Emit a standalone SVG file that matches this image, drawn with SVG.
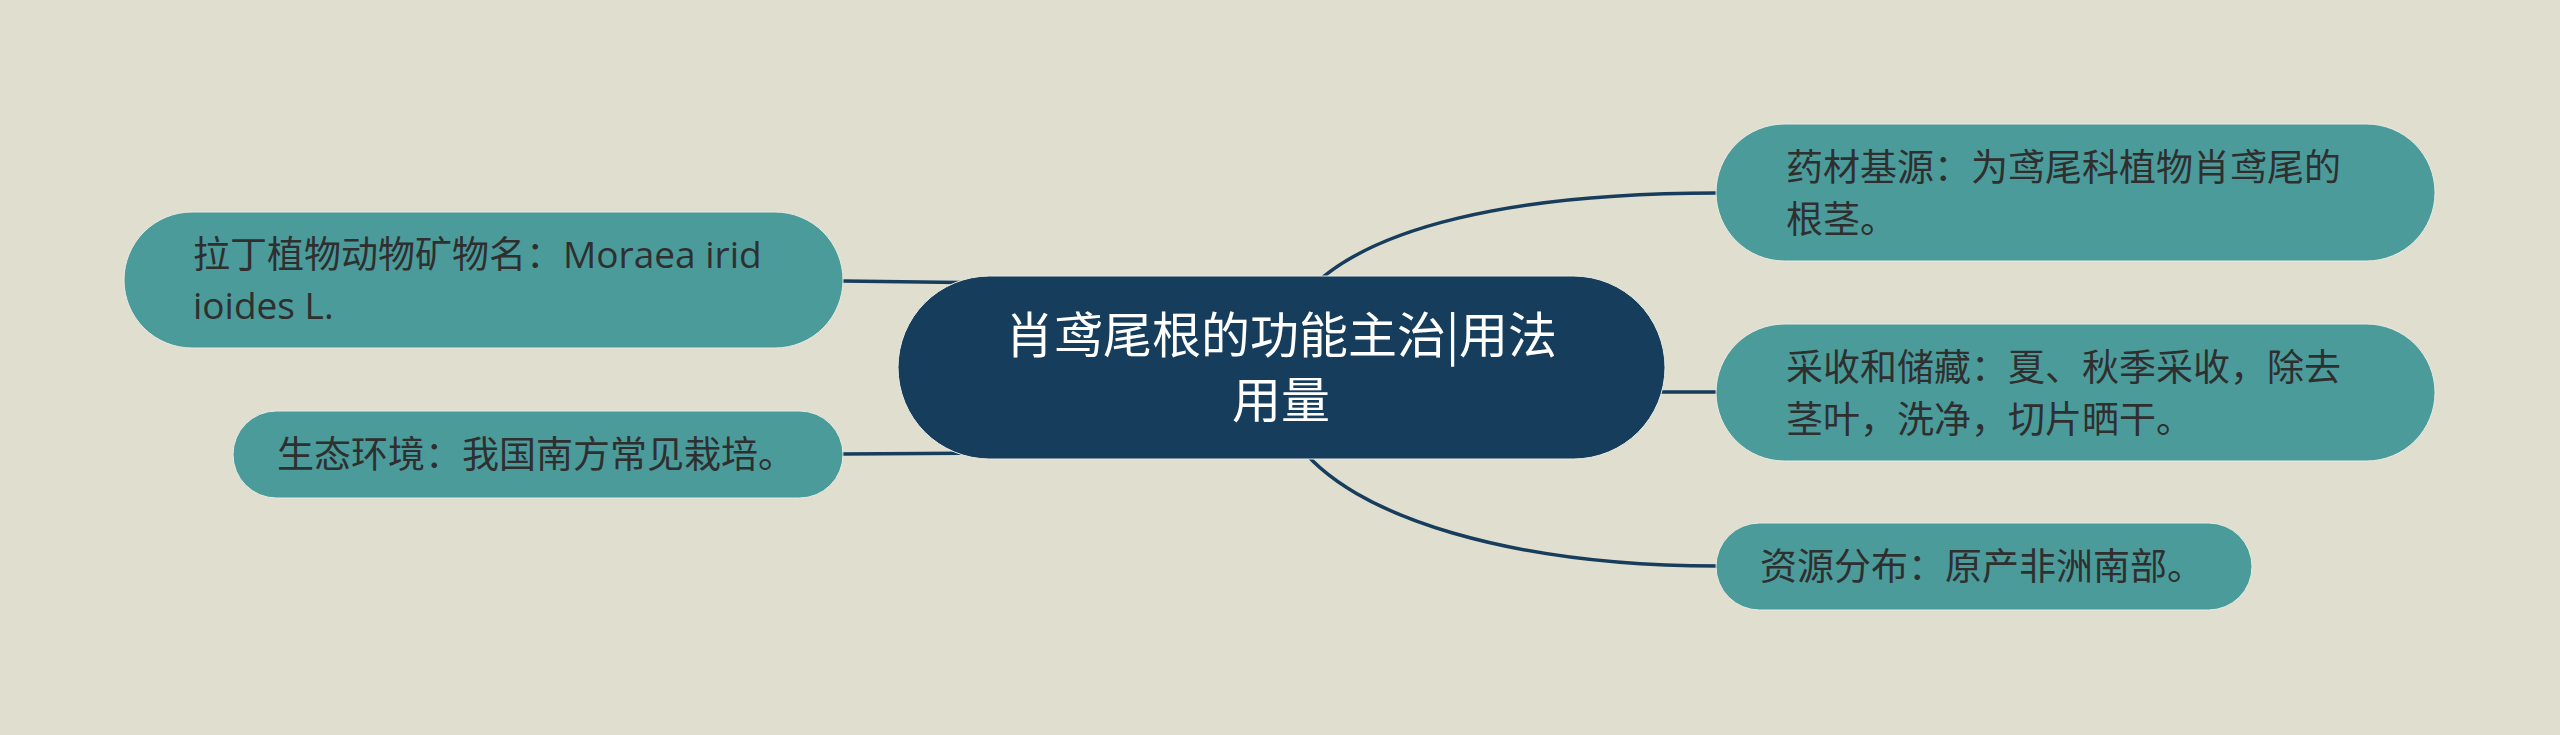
<svg xmlns="http://www.w3.org/2000/svg" width="2560" height="735" viewBox="0 0 2560 735">
<style>
.bg{fill:#e0decf}
.conn{fill:none;stroke:#173d5c;stroke-width:3.5;stroke-linecap:round}
.sub{fill:#4b9b9b;stroke:#e9ebe1;stroke-width:1}
.root{fill:#173d5c;stroke:#e9ebe1;stroke-width:1}
.t{font-family:"Open Sans","Noto Sans CJK SC",sans-serif;font-size:37px;fill:#2f2f2f}
.rt{font-family:"Noto Sans CJK SC",sans-serif;font-size:49px;fill:#ffffff;text-anchor:middle}
</style>
<rect class="bg" x="0" y="0" width="2560" height="735"/>
<g id="connectors">
<path class="conn" d="M1300,300 C1360,225 1520,193 1717,193"/>
<path class="conn" d="M1600,392 L1717,392"/>
<path class="conn" d="M1295,440 C1350,520 1520,566 1717,566"/>
<path class="conn" d="M843,281 L1000,283"/>
<path class="conn" d="M843,454 L1000,453"/>
</g>
<g id="root">
<rect class="root" x="898" y="276" width="767" height="183" rx="91.5"/>
<text class="rt" x="1281" y="353">肖鸢尾根的功能主治|用法</text>
<text class="rt" x="1281" y="418">用量</text>
</g>
<g id="node-yaocai">
<rect class="sub" x="1716" y="124" width="719" height="137" rx="68.5"/>
<text class="t" x="1786" y="181">药材基源：为鸢尾科植物肖鸢尾的</text>
<text class="t" x="1786" y="233">根茎。</text>
</g>
<g id="node-caishou">
<rect class="sub" x="1716" y="324" width="719" height="137" rx="68.5"/>
<text class="t" x="1786" y="381">采收和储藏：夏、秋季采收，除去</text>
<text class="t" x="1786" y="433">茎叶，洗净，切片晒干。</text>
</g>
<g id="node-ziyuan">
<rect class="sub" x="1716" y="523" width="536" height="87" rx="43.5"/>
<text class="t" x="1760" y="580">资源分布：原产非洲南部。</text>
</g>
<g id="node-lading">
<rect class="sub" x="124" y="212" width="719" height="136" rx="68"/>
<text class="t" x="193" y="268">拉丁植物动物矿物名：Moraea irid</text>
<text class="t" x="193" y="319">ioides L.</text>
</g>
<g id="node-shengtai">
<rect class="sub" x="233" y="411" width="610" height="87" rx="43.5"/>
<text class="t" x="277" y="468">生态环境：我国南方常见栽培。</text>
</g>
</svg>
